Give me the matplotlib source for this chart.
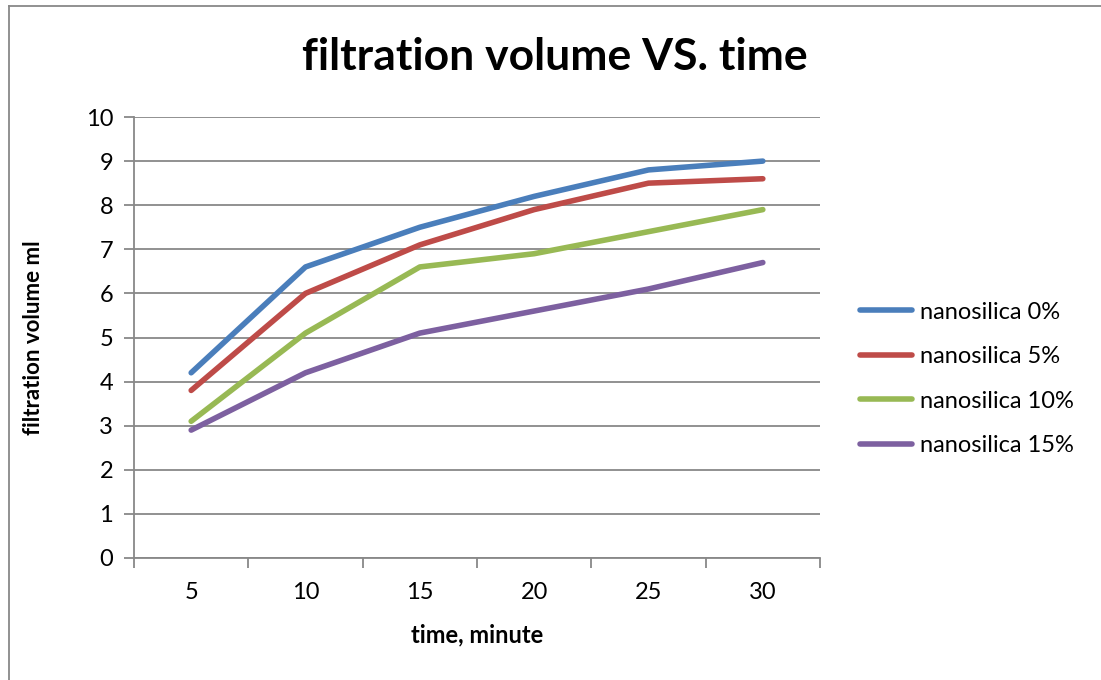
import matplotlib
matplotlib.use('Agg')
import matplotlib.pyplot as plt
from matplotlib.lines import Line2D

plt.rcParams['font.family'] = ['Lato', 'DejaVu Sans']

times = ['5', '10', '15', '20', '25', '30']
series_names = ['nanosilica 0%', 'nanosilica 5%', 'nanosilica 10%', 'nanosilica 15%']
vol_0 = [4.2, 6.6, 7.5, 8.2, 8.8, 9.0]
vol_5 = [3.8, 6.0, 7.1, 7.9, 8.5, 8.6]
vol_10 = [3.1, 5.1, 6.6, 6.9, 7.4, 7.9]
vol_15 = [2.9, 4.2, 5.1, 5.6, 6.1, 6.7]
colors = ['#4A7EBB', '#BE4B48', '#98B954', '#7D60A0']

fig = plt.figure(figsize=(11.01, 6.8), dpi=100)
# outer chart frame: only left and top edges show in the original
fx, fy = 8.5 / 1101, 1 - 5.5 / 680
fig.lines.append(Line2D([fx, fx], [0, fy], transform=fig.transFigure,
                        color='#888888', linewidth=1.3))
fig.lines.append(Line2D([fx, 1.01], [fy, fy], transform=fig.transFigure,
                        color='#888888', linewidth=1.3))

ax = fig.add_axes([134 / 1101, 1 - 558 / 680, 686 / 1101, 441 / 680])
pos = list(range(1, len(times) + 1))
for vals, name, c in zip([vol_0, vol_5, vol_10, vol_15], series_names, colors):
    ax.plot(pos, vals, color=c, linewidth=4, label=name, solid_capstyle='round')

ax.set_xlim(0.5, 6.5)
ax.set_ylim(0, 10)
ax.set_yticks(range(0, 11))
ax.set_xticks([p + 0.5 for p in range(0, 7)], minor=False)
ax.set_xticklabels([])
ax.set_xticks(pos, minor=True)
ax.set_xticklabels(times, minor=True)
ax.tick_params(axis='x', which='minor', length=0, pad=17, labelsize=17)
ax.tick_params(axis='x', which='major', length=7, width=1.3, color='#888888')
ax.tick_params(axis='y', length=7, width=1.3, color='#888888', labelsize=17, pad=8)

ax.grid(axis='y', color='#888888', linewidth=1.3)
ax.set_axisbelow(True)
for s in ['top', 'right']:
    ax.spines[s].set_visible(False)
for s in ['left', 'bottom']:
    ax.spines[s].set_color('#888888')
    ax.spines[s].set_linewidth(1.3)

ax.set_xlabel('time, minute', fontsize=17, fontweight='bold', labelpad=15)
ax.set_ylabel('filtration volume ml', fontsize=16, fontweight='bold', labelpad=30)
fig.text(555 / 1101, 1 - 57 / 680, 'filtration volume VS. time', fontsize=32,
         fontweight='bold', ha='center', va='center')

ax.legend(loc='center left', bbox_to_anchor=(1 + 40 / 686, 0.406), frameon=False,
          fontsize=17, handlelength=2.2, handletextpad=0.35, labelspacing=1.0,
          borderpad=0, borderaxespad=0)

fig.savefig('out.png', dpi=100)
